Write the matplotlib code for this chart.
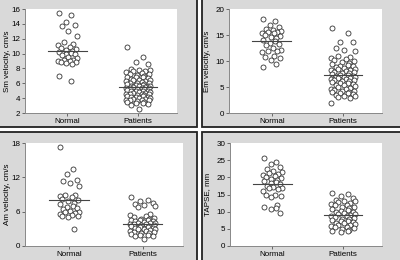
import matplotlib
matplotlib.use("Agg")
import matplotlib.pyplot as plt
from matplotlib.patches import Rectangle

plt.rcParams['font.family'] = ['Liberation Sans', 'DejaVu Sans']

groups = ["Normal", "Patients"]

sm_normal = [15.5, 15.2, 14.3, 13.8, 13.7, 13.1, 12.4, 11.6, 11.3, 11.1, 10.9, 10.7, 10.6,
             10.5, 10.3, 10.2, 10.1, 10.0, 9.9, 9.8, 9.6, 9.4, 9.2, 9.1, 9.0, 9.0, 8.9, 8.8,
             8.7, 8.6, 7.0, 6.3]
sm_patients = [10.9, 9.5, 8.8, 8.6, 7.9, 7.8, 7.8, 7.7, 7.6, 7.5, 7.4, 7.3, 7.2, 7.1, 7.0,
               6.9, 6.8, 6.8, 6.7, 6.6, 6.5, 6.5, 6.4, 6.3, 6.3, 6.2, 6.1, 6.0, 6.0, 5.9, 5.9,
               5.8, 5.8, 5.7, 5.7, 5.6, 5.6, 5.5, 5.5, 5.4, 5.4, 5.3, 5.3, 5.2, 5.2, 5.1, 5.0,
               5.0, 4.9, 4.9, 4.8, 4.8, 4.7, 4.7, 4.6, 4.6, 4.5, 4.5, 4.4, 4.4, 4.3, 4.3, 4.2,
               4.2, 4.1, 4.0, 4.0, 3.9, 3.9, 3.8, 3.8, 3.7, 3.7, 3.6, 3.5, 3.5, 3.4, 3.3, 3.2,
               3.1, 2.6]
em_normal = [18.0, 17.6, 17.0, 16.5, 16.2, 16.0, 15.8, 15.6, 15.5, 15.4, 15.3, 15.0, 14.8,
             14.6, 14.5, 14.0, 13.8, 13.5, 13.2, 13.0, 12.5, 12.2, 12.0, 12.0, 11.8, 11.0,
             10.8, 10.5, 10.2, 9.5, 8.8]
em_patients = [16.4, 15.3, 13.7, 13.6, 12.5, 12.2, 12.0, 11.0, 10.8, 10.5, 10.3, 10.1, 10.0,
               9.8, 9.6, 9.5, 9.3, 9.1, 9.0, 8.8, 8.6, 8.5, 8.4, 8.3, 8.2, 8.0, 7.9, 7.8, 7.7,
               7.6, 7.5, 7.4, 7.3, 7.2, 7.1, 7.0, 6.9, 6.8, 6.7, 6.6, 6.5, 6.4, 6.3, 6.2, 6.1,
               6.0, 5.8, 5.7, 5.5, 5.4, 5.3, 5.1, 5.0, 4.9, 4.7, 4.6, 4.5, 4.3, 4.2, 4.1, 4.0,
               3.9, 3.8, 3.6, 3.5, 3.3, 3.2, 3.0, 2.8, 2.0]
am_normal = [17.3, 13.5, 12.5, 11.6, 11.4, 11.0, 10.5, 9.0, 9.0, 8.8, 8.5, 8.3, 8.0, 7.8,
             7.6, 7.3, 7.0, 6.8, 6.6, 6.4, 6.2, 6.0, 5.9, 5.8, 5.6, 5.5, 5.3, 5.2, 5.0, 3.0]
am_patients = [8.6, 8.0, 7.8, 7.6, 7.4, 7.2, 7.0, 6.8, 5.6, 5.4, 5.2, 5.0, 4.9, 4.8, 4.7,
               4.6, 4.5, 4.5, 4.4, 4.3, 4.2, 4.1, 4.0, 4.0, 3.9, 3.8, 3.8, 3.7, 3.6, 3.5,
               3.5, 3.4, 3.3, 3.2, 3.1, 3.0, 3.0, 2.9, 2.8, 2.7, 2.6, 2.5, 2.4, 2.3, 2.2,
               2.1, 2.0, 1.9, 1.8, 1.7, 1.2]
tapse_normal = [25.5, 24.5, 24.0, 23.0, 22.3, 21.8, 21.5, 21.2, 21.0, 20.6, 20.3, 20.0,
                19.8, 19.5, 19.2, 19.0, 18.6, 18.3, 18.0, 17.6, 17.2, 17.0, 16.8, 16.5,
                16.0, 15.0, 14.8, 14.5, 14.3, 12.0, 11.5, 11.2, 10.8, 9.5]
tapse_patients = [15.5, 15.2, 14.5, 14.0, 13.5, 13.2, 13.0, 12.7, 12.5, 12.2, 12.0, 11.8,
                  11.5, 11.3, 11.0, 10.8, 10.5, 10.3, 10.0, 9.8, 9.6, 9.4, 9.2, 9.0, 8.8,
                  8.6, 8.4, 8.2, 8.0, 7.8, 7.6, 7.4, 7.2, 7.0, 6.8, 6.6, 6.4, 6.2, 6.0, 5.8,
                  5.6, 5.4, 5.2, 5.0, 4.8, 4.5, 4.3, 4.2]

medians = {"sm": [10.3, 5.5], "em": [13.8, 7.3], "am": [8.1, 3.8], "tapse": [18.2, 8.9]}

# spread pattern for the strip jitter
spread = [-0.9, 0.4, -0.2, 0.8, -0.6, 0.1, 1.0, -0.4, 0.6, -1.0, 0.3, -0.7, 0.9, -0.1, 0.5]

panels = [
    # key, normal, patients, ylabel, ylim, yticks, axes rect px (left, top, right, bottom)
    ("sm", sm_normal, sm_patients, "Sm velocity, cm/s", (2, 16), range(2, 17, 2), (25, 9, 177, 113)),
    ("em", em_normal, em_patients, "Em velocity, cm/s", (0, 20), range(0, 21, 5), (229, 9, 382, 113)),
    ("am", am_normal, am_patients, "Am velocity, cm/s", (0, 18), range(0, 19, 6), (25, 143, 183, 246)),
    ("tapse", tapse_normal, tapse_patients, "TAPSE, mm", (0, 30), range(0, 31, 5), (230, 143, 382, 246)),
]
boxes = [(-3, -3, 197, 127), (202, -3, 403, 127), (-3, 132, 197, 263), (202, 132, 403, 263)]

W, H = 400, 260
fig = plt.figure(figsize=(4, 2.6), dpi=100)
fig.patch.set_facecolor("white")

for (x0, y0, x1, y1) in boxes:
    r = Rectangle((x0 / W, 1 - y1 / H), (x1 - x0) / W, (y1 - y0) / H, transform=fig.transFigure,
                  facecolor="#d9d9d9", edgecolor="#222222", linewidth=1.3, zorder=0)
    fig.add_artist(r)

for key, normal, patients, ylab, ylim, yticks, (l, t, r, b) in panels:
    ax = fig.add_axes([l / W, 1 - b / H, (r - l) / W, (b - t) / H])
    ax.set_facecolor("white")
    for gi, (vals, wid) in enumerate([(normal, 0.13), (patients, 0.17)]):
        xs = [gi + 1 + spread[i % len(spread)] * wid for i in range(len(vals))]
        ax.scatter(xs, vals, s=13, facecolors="white", edgecolors="#333333", linewidths=0.6, zorder=3)
        ax.plot([gi + 1 - 0.27, gi + 1 + 0.27], [medians[key][gi]] * 2, color="#444444", lw=0.8, zorder=4)
    ax.set_xlim(0.4, 2.55)
    ax.set_ylim(*ylim)
    ax.set_yticks(list(yticks))
    ax.set_xticks([1, 2])
    ax.set_xticklabels(groups)
    ax.set_ylabel(ylab, fontsize=5.8)
    ax.yaxis.set_label_coords(-(l % 200 - 11) / (r - l), 0.5)
    ax.tick_params(labelsize=5.8, length=2, width=0.6, pad=1.5, color="#555555")
    for s in ["top", "right"]:
        ax.spines[s].set_visible(False)
    for s in ["left", "bottom"]:
        ax.spines[s].set_color("#888888")
        ax.spines[s].set_linewidth(0.7)

fig.savefig("out.png", dpi=100)
